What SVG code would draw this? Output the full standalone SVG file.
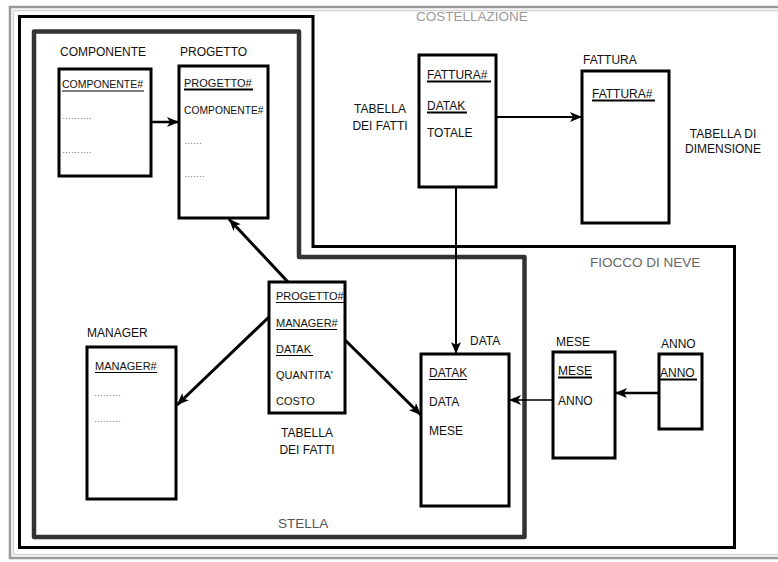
<svg xmlns="http://www.w3.org/2000/svg" width="778" height="562" viewBox="0 0 778 562">
  <style>
    text { font-family: "Liberation Sans", Arial, sans-serif; fill: #111; }
    .lbl { font-size: 12px; }
    .fld { font-size: 11px; }
    .fldL { font-size: 12px; }
    .dots { font-size: 9px; fill: #666; }
    .area { font-size: 13.5px; }
    .box { fill: #fff; stroke: #000; stroke-width: 3; }
    .ul { stroke: #000; stroke-width: 1.2; }
    .ulb { stroke: #000; stroke-width: 2; }
    .conn { fill: none; stroke: #000; marker-end: url(#arrow); }
  </style>
  <defs>
    <marker id="arrow" markerUnits="userSpaceOnUse" markerWidth="13" markerHeight="11" refX="12" refY="5" orient="auto">
      <path d="M0,0 L12,5 L0,10 L3,5 z" fill="#000"/>
    </marker>
  </defs>

  <rect width="778" height="562" fill="#fff"/>

  <!-- outer frame -->
  <g id="frame" fill="none">
    <rect x="10" y="7" width="800" height="551" stroke="#999" stroke-width="2.5"/>
    <rect x="13.5" y="10.5" width="800" height="544" stroke="#d2d2d2" stroke-width="1.5"/>
  </g>

  <!-- areas -->
  <g id="costellazione">
    <polygon points="19.5,16.5 313,16.5 313,246.5 734.5,246.5 734.5,547.5 19.5,547.5" fill="none" stroke="#000" stroke-width="3"/>
    <text class="area" x="416" y="21" style="fill:#9a9a9a">COSTELLAZIONE</text>
  </g>
  <g id="stella">
    <polygon points="34,31.5 299,31.5 299,257 524.5,257 524.5,537 34,537" fill="none" stroke="#333" stroke-width="4.5" stroke-linejoin="round"/>
    <text class="area" x="278" y="528" style="fill:#555">STELLA</text>
  </g>
  <g id="fiocco-di-neve">
    <text class="area" x="590" y="267" style="fill:#666">FIOCCO DI NEVE</text>
  </g>

  <!-- connectors -->
  <g id="connectors">
    <line class="conn" x1="151" y1="122" x2="179" y2="122" stroke-width="2.5"/>
    <line class="conn" x1="288" y1="282" x2="229" y2="219" stroke-width="3"/>
    <line class="conn" x1="269" y1="317" x2="177" y2="405" stroke-width="3"/>
    <line class="conn" x1="345" y1="340" x2="421" y2="415" stroke-width="3"/>
    <line class="conn" x1="496" y1="117" x2="582" y2="117" stroke-width="2"/>
    <line class="conn" x1="456" y1="187" x2="456" y2="354" stroke-width="2"/>
    <line class="conn" x1="553" y1="400" x2="509" y2="400" stroke-width="1.5"/>
    <line class="conn" x1="659" y1="393" x2="615" y2="393" stroke-width="2.5"/>
  </g>

  <!-- COMPONENTE -->
  <g id="componente">
    <text class="lbl" x="60" y="56">COMPONENTE</text>
    <rect class="box" x="59" y="69" width="92" height="107"/>
    <text class="fld" x="62" y="88" style="font-size:10.5px">COMPONENTE#</text>
    <line class="ul" x1="62" y1="91" x2="144" y2="91"/>
    <text class="dots" x="62" y="119">……….</text>
    <text class="dots" x="62" y="153">……….</text>
  </g>

  <!-- PROGETTO -->
  <g id="progetto">
    <text class="lbl" x="180" y="56">PROGETTO</text>
    <rect class="box" x="179" y="66" width="89" height="152"/>
    <text class="fld" x="184" y="87">PROGETTO#</text>
    <line class="ulb" x1="184" y1="89.5" x2="253" y2="89.5"/>
    <text class="fld" x="184" y="114" style="font-size:10.3px">COMPONENTE#</text>
    <text class="dots" x="184" y="144">……</text>
    <text class="dots" x="184" y="177">…….</text>
  </g>

  <!-- fact table (stella) -->
  <g id="fatti-stella">
    <rect class="box" x="269" y="282" width="76" height="131"/>
    <text class="fld" x="276" y="300">PROGETTO#</text>
    <line class="ul" x1="276" y1="302.5" x2="344" y2="302.5"/>
    <text class="fld" x="276" y="327">MANAGER#</text>
    <line class="ul" x1="276" y1="329.5" x2="337" y2="329.5"/>
    <text class="fld" x="276" y="353">DATAK</text>
    <line class="ul" x1="276" y1="355.5" x2="313" y2="355.5"/>
    <text class="fld" x="276" y="379">QUANTITA'</text>
    <text class="fld" x="276" y="405">COSTO</text>
    <text class="lbl" x="307" y="437" text-anchor="middle">TABELLA</text>
    <text class="lbl" x="307" y="454" text-anchor="middle">DEI FATTI</text>
  </g>

  <!-- MANAGER -->
  <g id="manager">
    <text class="lbl" x="87" y="337">MANAGER</text>
    <rect class="box" x="87" y="347" width="89" height="152"/>
    <text class="fld" x="95" y="370">MANAGER#</text>
    <line class="ul" x1="95" y1="372.5" x2="157" y2="372.5"/>
    <text class="dots" x="94" y="396">………</text>
    <text class="dots" x="94" y="422">………</text>
  </g>

  <!-- DATA -->
  <g id="data">
    <text class="lbl" x="470" y="345">DATA</text>
    <rect class="box" x="421" y="354" width="88" height="152"/>
    <text class="fldL" x="429" y="377">DATAK</text>
    <line class="ul" x1="429" y1="379.5" x2="467" y2="379.5"/>
    <text class="fldL" x="429" y="406">DATA</text>
    <text class="fldL" x="429" y="435">MESE</text>
  </g>

  <!-- MESE -->
  <g id="mese">
    <text class="lbl" x="556" y="346">MESE</text>
    <rect class="box" x="553" y="352" width="62" height="106"/>
    <text class="fldL" x="558" y="375">MESE</text>
    <line class="ulb" x1="558" y1="377.5" x2="592" y2="377.5"/>
    <text class="fldL" x="558" y="405">ANNO</text>
  </g>

  <!-- ANNO -->
  <g id="anno">
    <text class="lbl" x="661" y="348">ANNO</text>
    <rect class="box" x="659" y="354" width="43" height="75"/>
    <text class="fldL" x="660" y="377">ANNO</text>
    <line class="ulb" x1="660" y1="379.5" x2="697" y2="379.5"/>
  </g>

  <!-- fact table (costellazione) -->
  <g id="fatti-fattura">
    <text class="lbl" x="380" y="113" text-anchor="middle">TABELLA</text>
    <text class="lbl" x="380" y="130" text-anchor="middle">DEI FATTI</text>
    <rect class="box" x="419" y="55" width="77" height="132"/>
    <text class="fldL" x="427" y="79">FATTURA#</text>
    <line class="ulb" x1="427" y1="81.5" x2="491" y2="81.5"/>
    <text class="fldL" x="427" y="110">DATAK</text>
    <line class="ulb" x1="427" y1="112.5" x2="467" y2="112.5"/>
    <text class="fldL" x="427" y="137">TOTALE</text>
  </g>

  <!-- FATTURA -->
  <g id="fattura">
    <text class="lbl" x="583" y="64">FATTURA</text>
    <rect class="box" x="582" y="71" width="87" height="152"/>
    <text class="fldL" x="592" y="98">FATTURA#</text>
    <line class="ulb" x1="592" y1="100.5" x2="655" y2="100.5"/>
    <text class="lbl" x="723" y="138" text-anchor="middle">TABELLA DI</text>
    <text class="lbl" x="723" y="153" text-anchor="middle">DIMENSIONE</text>
  </g>
</svg>
